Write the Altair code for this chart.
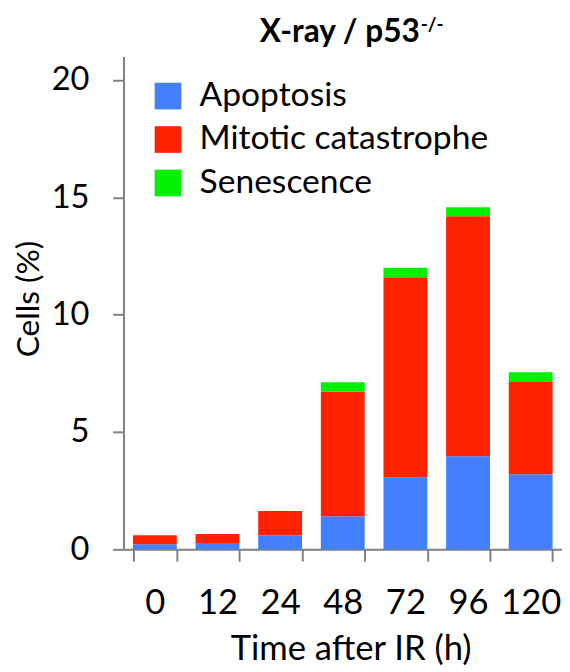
import altair as alt
import pandas as pd

# ---- data ----
times = ["0", "12", "24", "48", "72", "96", "120"]
categories = ["Apoptosis", "Mitotic catastrophe", "Senescence"]
apoptosis = [0.22, 0.27, 0.59, 1.41, 3.07, 3.97, 3.20]
mitotic = [0.38, 0.38, 1.04, 5.31, 8.53, 10.22, 3.93]
senescence = [0.0, 0.0, 0.0, 0.40, 0.40, 0.39, 0.42]
y_ticks = [0, 5, 10, 15, 20]
colors = ["#4280FF", "#FF2200", "#00F000"]
title_main = "X-ray / p53"
title_sup = "-/-"

rows = []
for i, t in enumerate(times):
    for k, (cat, vals) in enumerate(zip(categories, [apoptosis, mitotic, senescence])):
        rows.append({"time": t, "type": cat, "value": vals[i], "order": k})
df = pd.DataFrame(rows)

FONT = "Lato"
AXC = "#808080"

bars = alt.Chart(df).mark_bar().encode(
    x=alt.X(
        "time:N",
        sort=times,
        scale=alt.Scale(paddingInner=0.3, paddingOuter=0.15),
        axis=alt.Axis(
            title="Time after IR (h)",
            labelAngle=0,
            labelFontSize=35,
            tickBand="extent",
            tickSize=12,
            labelPadding=25,
            titleFontSize=35,
            titleX=230,
            titleY=112,
            titleBaseline="alphabetic",
        ),
    ),
    y=alt.Y(
        "value:Q",
        stack="zero",
        scale=alt.Scale(domain=[0, 21], nice=False),
        axis=alt.Axis(
            values=y_ticks,
            title="Cells (%)",
            grid=False,
            labelFontSize=33,
            tickSize=11,
            labelPadding=24,
            titleFontSize=32,
            titleX=-86,
            titleY=245,
            titleBaseline="alphabetic",
        ),
    ),
    color=alt.Color(
        "type:N",
        scale=alt.Scale(domain=categories, range=colors),
        legend=alt.Legend(
            orient="none",
            legendX=28,
            legendY=23,
            title=None,
            symbolType="square",
            symbolSize=729,
            symbolStrokeWidth=0,
            labelFontSize=34,
            labelFont=FONT,
            labelColor="black",
            labelLimit=0,
            labelOffset=15,
            rowPadding=10,
        ),
    ),
    order=alt.Order("order:Q", sort="ascending"),
)

t1 = alt.Chart(pd.DataFrame({"t": [title_main]})).mark_text(
    font=FONT, fontSize=32, fontWeight="bold", align="right", baseline="alphabetic", color="black"
).encode(text="t:N", x=alt.value(300), y=alt.value(-15))

t2 = alt.Chart(pd.DataFrame({"t": [title_sup]})).mark_text(
    font=FONT, fontSize=19, fontWeight="bold", align="left", baseline="alphabetic", color="black"
).encode(text="t:N", x=alt.value(301), y=alt.value(-26))

chart = (
    alt.layer(bars, t1, t2)
    .properties(
        width=444,
        height=499,
        autosize=alt.AutoSizeParams(type="none"),
        padding={"left": 117, "top": 45, "right": 0, "bottom": 118},
    )
    .configure_view(stroke=None)
    .configure_axis(
        domainColor=AXC,
        tickColor=AXC,
        domainWidth=2,
        tickWidth=2,
        labelFont=FONT,
        labelFontSize=32,
        labelColor="black",
        titleFont=FONT,
        titleFontSize=32,
        titleFontWeight="normal",
        titleColor="black",
    )
)

chart.save("out.html", embed_options={"renderer": "svg", "actions": False})
